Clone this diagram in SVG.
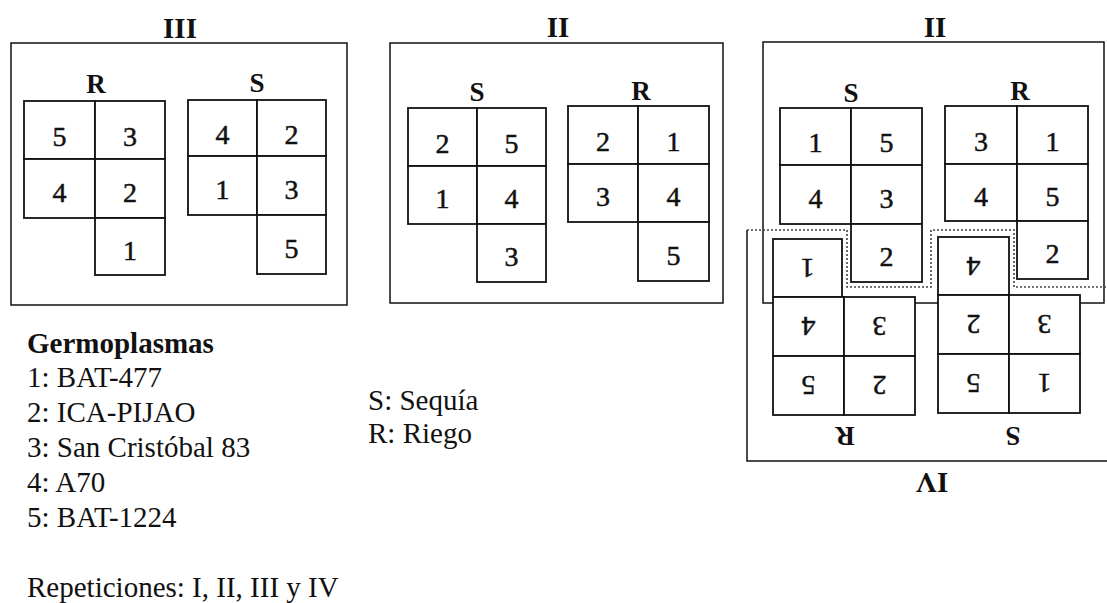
<svg xmlns="http://www.w3.org/2000/svg" width="1107" height="603" viewBox="0 0 1107 603">
<style>
.box{fill:none;stroke:#111;stroke-width:1.5}
.cell rect{fill:#fff;stroke:#111;stroke-width:1.8}
.cell text{font-family:"Liberation Serif",serif;font-size:28px;text-anchor:middle;fill:#111;stroke:#111;stroke-width:0.5}
.lab{font-family:"Liberation Serif",serif;font-weight:bold;font-size:27px;text-anchor:middle;fill:#111}
.title{font-family:"Liberation Serif",serif;font-weight:bold;font-size:29px;text-anchor:middle;fill:#111}
.leg{font-family:"Liberation Serif",serif;font-size:29px;fill:#111}
.dot{fill:none;stroke:#444;stroke-width:1.6;stroke-dasharray:2 2}
</style>
<rect width="1107" height="603" fill="#fff"/>
<g id="connectors"/>

<g id="block-III">
<rect class="box" x="11" y="43" width="336" height="262"/>
<text class="title" x="180" y="38">III</text>
<text class="lab" x="96" y="93">R</text>
<text class="lab" x="257" y="92">S</text>
<g id="III-R-5" class="cell"><rect x="24" y="101" width="71" height="58"/><text x="59.5" y="146">5</text></g>
<g id="III-R-3" class="cell"><rect x="95" y="101" width="70" height="58"/><text x="130" y="146">3</text></g>
<g id="III-R-4" class="cell"><rect x="24" y="159" width="71" height="59"/><text x="59.5" y="202">4</text></g>
<g id="III-R-2" class="cell"><rect x="95" y="159" width="70" height="59"/><text x="130" y="202">2</text></g>
<g id="III-R-1" class="cell"><rect x="95" y="218" width="70" height="57"/><text x="130" y="259.5">1</text></g>
<g id="III-S-4" class="cell"><rect x="188" y="100" width="69" height="56"/><text x="222.5" y="143.5">4</text></g>
<g id="III-S-2" class="cell"><rect x="257" y="100" width="69" height="56"/><text x="291.5" y="143.5">2</text></g>
<g id="III-S-1" class="cell"><rect x="188" y="156" width="69" height="59"/><text x="222.5" y="199">1</text></g>
<g id="III-S-3" class="cell"><rect x="257" y="156" width="69" height="59"/><text x="291.5" y="199">3</text></g>
<g id="III-S-5" class="cell"><rect x="257" y="215" width="69" height="59"/><text x="291.5" y="257.5">5</text></g>
</g>

<g id="block-II-mid">
<rect class="box" x="390" y="43" width="333" height="260"/>
<text class="title" x="558" y="37">II</text>
<text class="lab" x="477" y="101">S</text>
<text class="lab" x="641" y="100">R</text>
<g id="IIa-S-2" class="cell"><rect x="408" y="108" width="69" height="58"/><text x="442.5" y="152.5">2</text></g>
<g id="IIa-S-5" class="cell"><rect x="477" y="108" width="69" height="58"/><text x="511.5" y="152.5">5</text></g>
<g id="IIa-S-1" class="cell"><rect x="408" y="166" width="69" height="58"/><text x="442.5" y="208">1</text></g>
<g id="IIa-S-4" class="cell"><rect x="477" y="166" width="69" height="58"/><text x="511.5" y="208">4</text></g>
<g id="IIa-S-3" class="cell"><rect x="477" y="224" width="69" height="58"/><text x="511.5" y="266">3</text></g>
<g id="IIa-R-2" class="cell"><rect x="568" y="106" width="70" height="58"/><text x="603" y="150.5">2</text></g>
<g id="IIa-R-1" class="cell"><rect x="638" y="106" width="71" height="58"/><text x="673.5" y="150.5">1</text></g>
<g id="IIa-R-3" class="cell"><rect x="568" y="164" width="70" height="58"/><text x="603" y="206">3</text></g>
<g id="IIa-R-4" class="cell"><rect x="638" y="164" width="71" height="58"/><text x="673.5" y="206">4</text></g>
<g id="IIa-R-5" class="cell"><rect x="638" y="222" width="71" height="59"/><text x="673.5" y="264.5">5</text></g>
</g>

<g id="block-II-right">
<rect class="box" x="763" y="42" width="341" height="261"/>
<text class="title" x="935" y="37">II</text>
<text class="lab" x="851" y="102">S</text>
<text class="lab" x="1020" y="100">R</text>
<g id="IIb-S-1" class="cell"><rect x="780" y="108" width="71" height="57"/><text x="815.5" y="152">1</text></g>
<g id="IIb-S-5" class="cell"><rect x="851" y="108" width="71" height="57"/><text x="886.5" y="152">5</text></g>
<g id="IIb-S-4" class="cell"><rect x="780" y="165" width="71" height="59"/><text x="815.5" y="207.5">4</text></g>
<g id="IIb-S-3" class="cell"><rect x="851" y="165" width="71" height="59"/><text x="886.5" y="207.5">3</text></g>
<g id="IIb-S-2" class="cell"><rect x="851" y="224" width="71" height="58"/><text x="886.5" y="266">2</text></g>
<g id="IIb-R-3" class="cell"><rect x="945" y="106" width="72" height="58"/><text x="981" y="150.5">3</text></g>
<g id="IIb-R-1" class="cell"><rect x="1017" y="106" width="71" height="58"/><text x="1052.5" y="150.5">1</text></g>
<g id="IIb-R-4" class="cell"><rect x="945" y="164" width="72" height="57"/><text x="981" y="205.5">4</text></g>
<g id="IIb-R-5" class="cell"><rect x="1017" y="164" width="71" height="57"/><text x="1052.5" y="205.5">5</text></g>
<g id="IIb-R-2" class="cell"><rect x="1017" y="221" width="71" height="58"/><text x="1052.5" y="263">2</text></g>
</g>

<g id="block-IV">
<path class="box" d="M747,230 V461 H1107"/>
<path class="dot" d="M747,230 H847 V287 H931 V230 H1014 V287 H1107"/>
<text class="title" x="932" y="492.5" transform="rotate(180 932 482.5)">IV</text>
<text class="lab" x="845" y="445" transform="rotate(180 845 436)">R</text>
<text class="lab" x="1013" y="445" transform="rotate(180 1013 436)">S</text>
<g id="IV-R-1" class="cell"><rect x="773" y="239" width="69" height="58"/><text x="807.5" y="277.5" transform="rotate(180 807.5 268)">1</text></g>
<g id="IV-R-4" class="cell"><rect x="773" y="297" width="71" height="59"/><text x="808.5" y="336" transform="rotate(180 808.5 326.5)">4</text></g>
<g id="IV-R-3" class="cell"><rect x="844" y="297" width="71" height="59"/><text x="879.5" y="336" transform="rotate(180 879.5 326.5)">3</text></g>
<g id="IV-R-5" class="cell"><rect x="773" y="356" width="71" height="59"/><text x="808.5" y="395" transform="rotate(180 808.5 385.5)">5</text></g>
<g id="IV-R-2" class="cell"><rect x="844" y="356" width="71" height="59"/><text x="879.5" y="395" transform="rotate(180 879.5 385.5)">2</text></g>
<g id="IV-S-4" class="cell"><rect x="938" y="237" width="71" height="58"/><text x="973.5" y="275.5" transform="rotate(180 973.5 266)">4</text></g>
<g id="IV-S-2" class="cell"><rect x="938" y="295" width="71" height="59"/><text x="973.5" y="334" transform="rotate(180 973.5 324.5)">2</text></g>
<g id="IV-S-3" class="cell"><rect x="1009" y="295" width="71" height="59"/><text x="1044.5" y="334" transform="rotate(180 1044.5 324.5)">3</text></g>
<g id="IV-S-5" class="cell"><rect x="938" y="354" width="71" height="59"/><text x="973.5" y="393" transform="rotate(180 973.5 383.5)">5</text></g>
<g id="IV-S-1" class="cell"><rect x="1009" y="354" width="71" height="59"/><text x="1044.5" y="393" transform="rotate(180 1044.5 383.5)">1</text></g>
</g>

<g id="legend">
<text class="leg" x="27" y="353" font-weight="bold">Germoplasmas</text>
<text class="leg" x="27" y="387">1: BAT-477</text>
<text class="leg" x="27" y="422">2: ICA-PIJAO</text>
<text class="leg" x="27" y="457">3: San Cristóbal 83</text>
<text class="leg" x="27" y="492">4: A70</text>
<text class="leg" x="27" y="527">5: BAT-1224</text>
<text class="leg" x="27" y="597">Repeticiones: I, II, III y IV</text>
<text class="leg" x="368" y="410">S: Sequía</text>
<text class="leg" x="368" y="443">R: Riego</text>
</g>
</svg>
